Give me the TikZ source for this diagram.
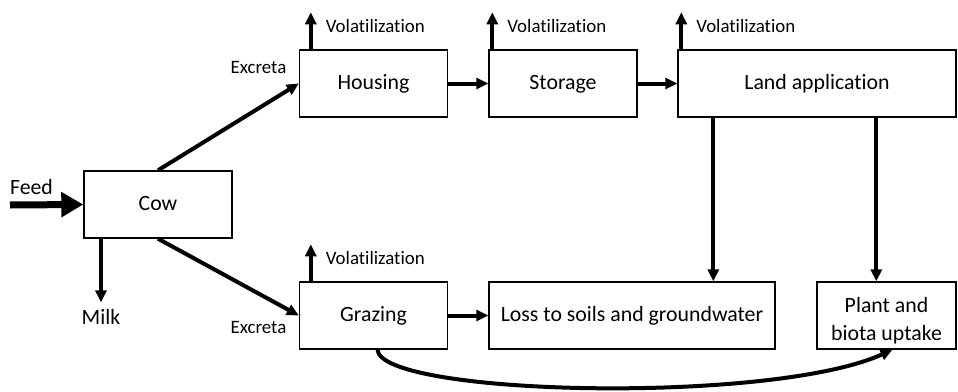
\documentclass[tikz,border=0pt]{standalone}
\usepackage{fontspec}
\setmainfont{Carlito}[Ligatures=NoCommon]
\usetikzlibrary{arrows.meta}

\begin{document}
\begin{tikzpicture}[x=0.5pt,y=-0.5pt,
    box/.style={
% The shape:
rectangle,
% The size:
minimum height=33.5pt,
minimum width=74pt,
inner sep=0pt,
% The border:
line width=0.7pt, draw,
font=\fontsize{10.9}{14}\selectfont
},
    onebox/.style={box, execute at begin node=\strut},
    lbl/.style={
font=\fontsize{10.9}{14}\selectfont
},
    vol/.style={
inner sep=0.5pt,
font=\fontsize{9.45}{11}\selectfont
},
    arr/.style={line width=2pt, -{Triangle[length=6pt,width=5.5pt]}},
    feedarr/.style={line width=3.5pt, -{Triangle[length=11pt,width=12pt]}},
]
  \useasboundingbox (0,0) rectangle (958,391);

  \node[onebox]                               (cow)     at (158, 204.5)  {Cow};
  \node[onebox]                               (housing) at (373.5, 83.5) {Housing};
  \node[onebox]                               (storage) at (563, 83.5)   {Storage};
  \node[onebox,minimum width=139pt]           (land)    at (817, 83.5)   {Land application};
  \node[onebox]                               (grazing) at (373.5, 315.5){Grazing};
  \node[onebox,minimum width=143pt]           (loss)    at (632, 315.5)  {Loss to soils and groundwater};
  \node[box,minimum width=69.5pt,align=center] (plant)  at (886.5, 315.5){\rule{0pt}{13pt}Plant and\\biota uptake};

  \node[lbl]                                  (feed)    at (31.5, 187)   {Feed};
  \node[lbl]                                  (milk)    at (101, 317)    {Milk};
  \node[vol]                                  (exup)    at (258.5, 68)   {Excreta};
  \node[vol]                                  (exdown)  at (258.5, 328)  {Excreta};

  \coordinate (feedin) at (10, 205);
  \draw[feedarr] (feedin) -> (cow.west);
  \draw[arr] (milk.north |- cow.south) -> (milk.north);

  \draw[arr] (cow.north) -> (housing.west);
  \draw[arr] (cow.south) -> (grazing.west);

  \draw[arr] (housing) -> (storage);
  \draw[arr] (storage) -> (land);
  \draw[arr] (grazing) -> (loss);

  \foreach \b/\dx in {housing/6,storage/2,land/2,grazing/6}
    \draw[arr] ([xshift=\dx pt]\b.north west) -- ++(0,-37)
      node[vol,anchor=west,xshift=6pt,yshift=-7pt] {Volatilization};

  \coordinate (dl) at ([xshift=18pt]land.south west);
  \coordinate (dp) at ([xshift=99.5pt]land.south west);
  \draw[arr] (dl) -> (dl |- loss.north);
  \draw[arr] (dp) -> (dp |- plant.north);

  \draw[arr] ([xshift=2pt]grazing.south) .. controls +(3,46) and +(-122,55) .. ([xshift=3pt]plant.south);
\end{tikzpicture}
\end{document}
